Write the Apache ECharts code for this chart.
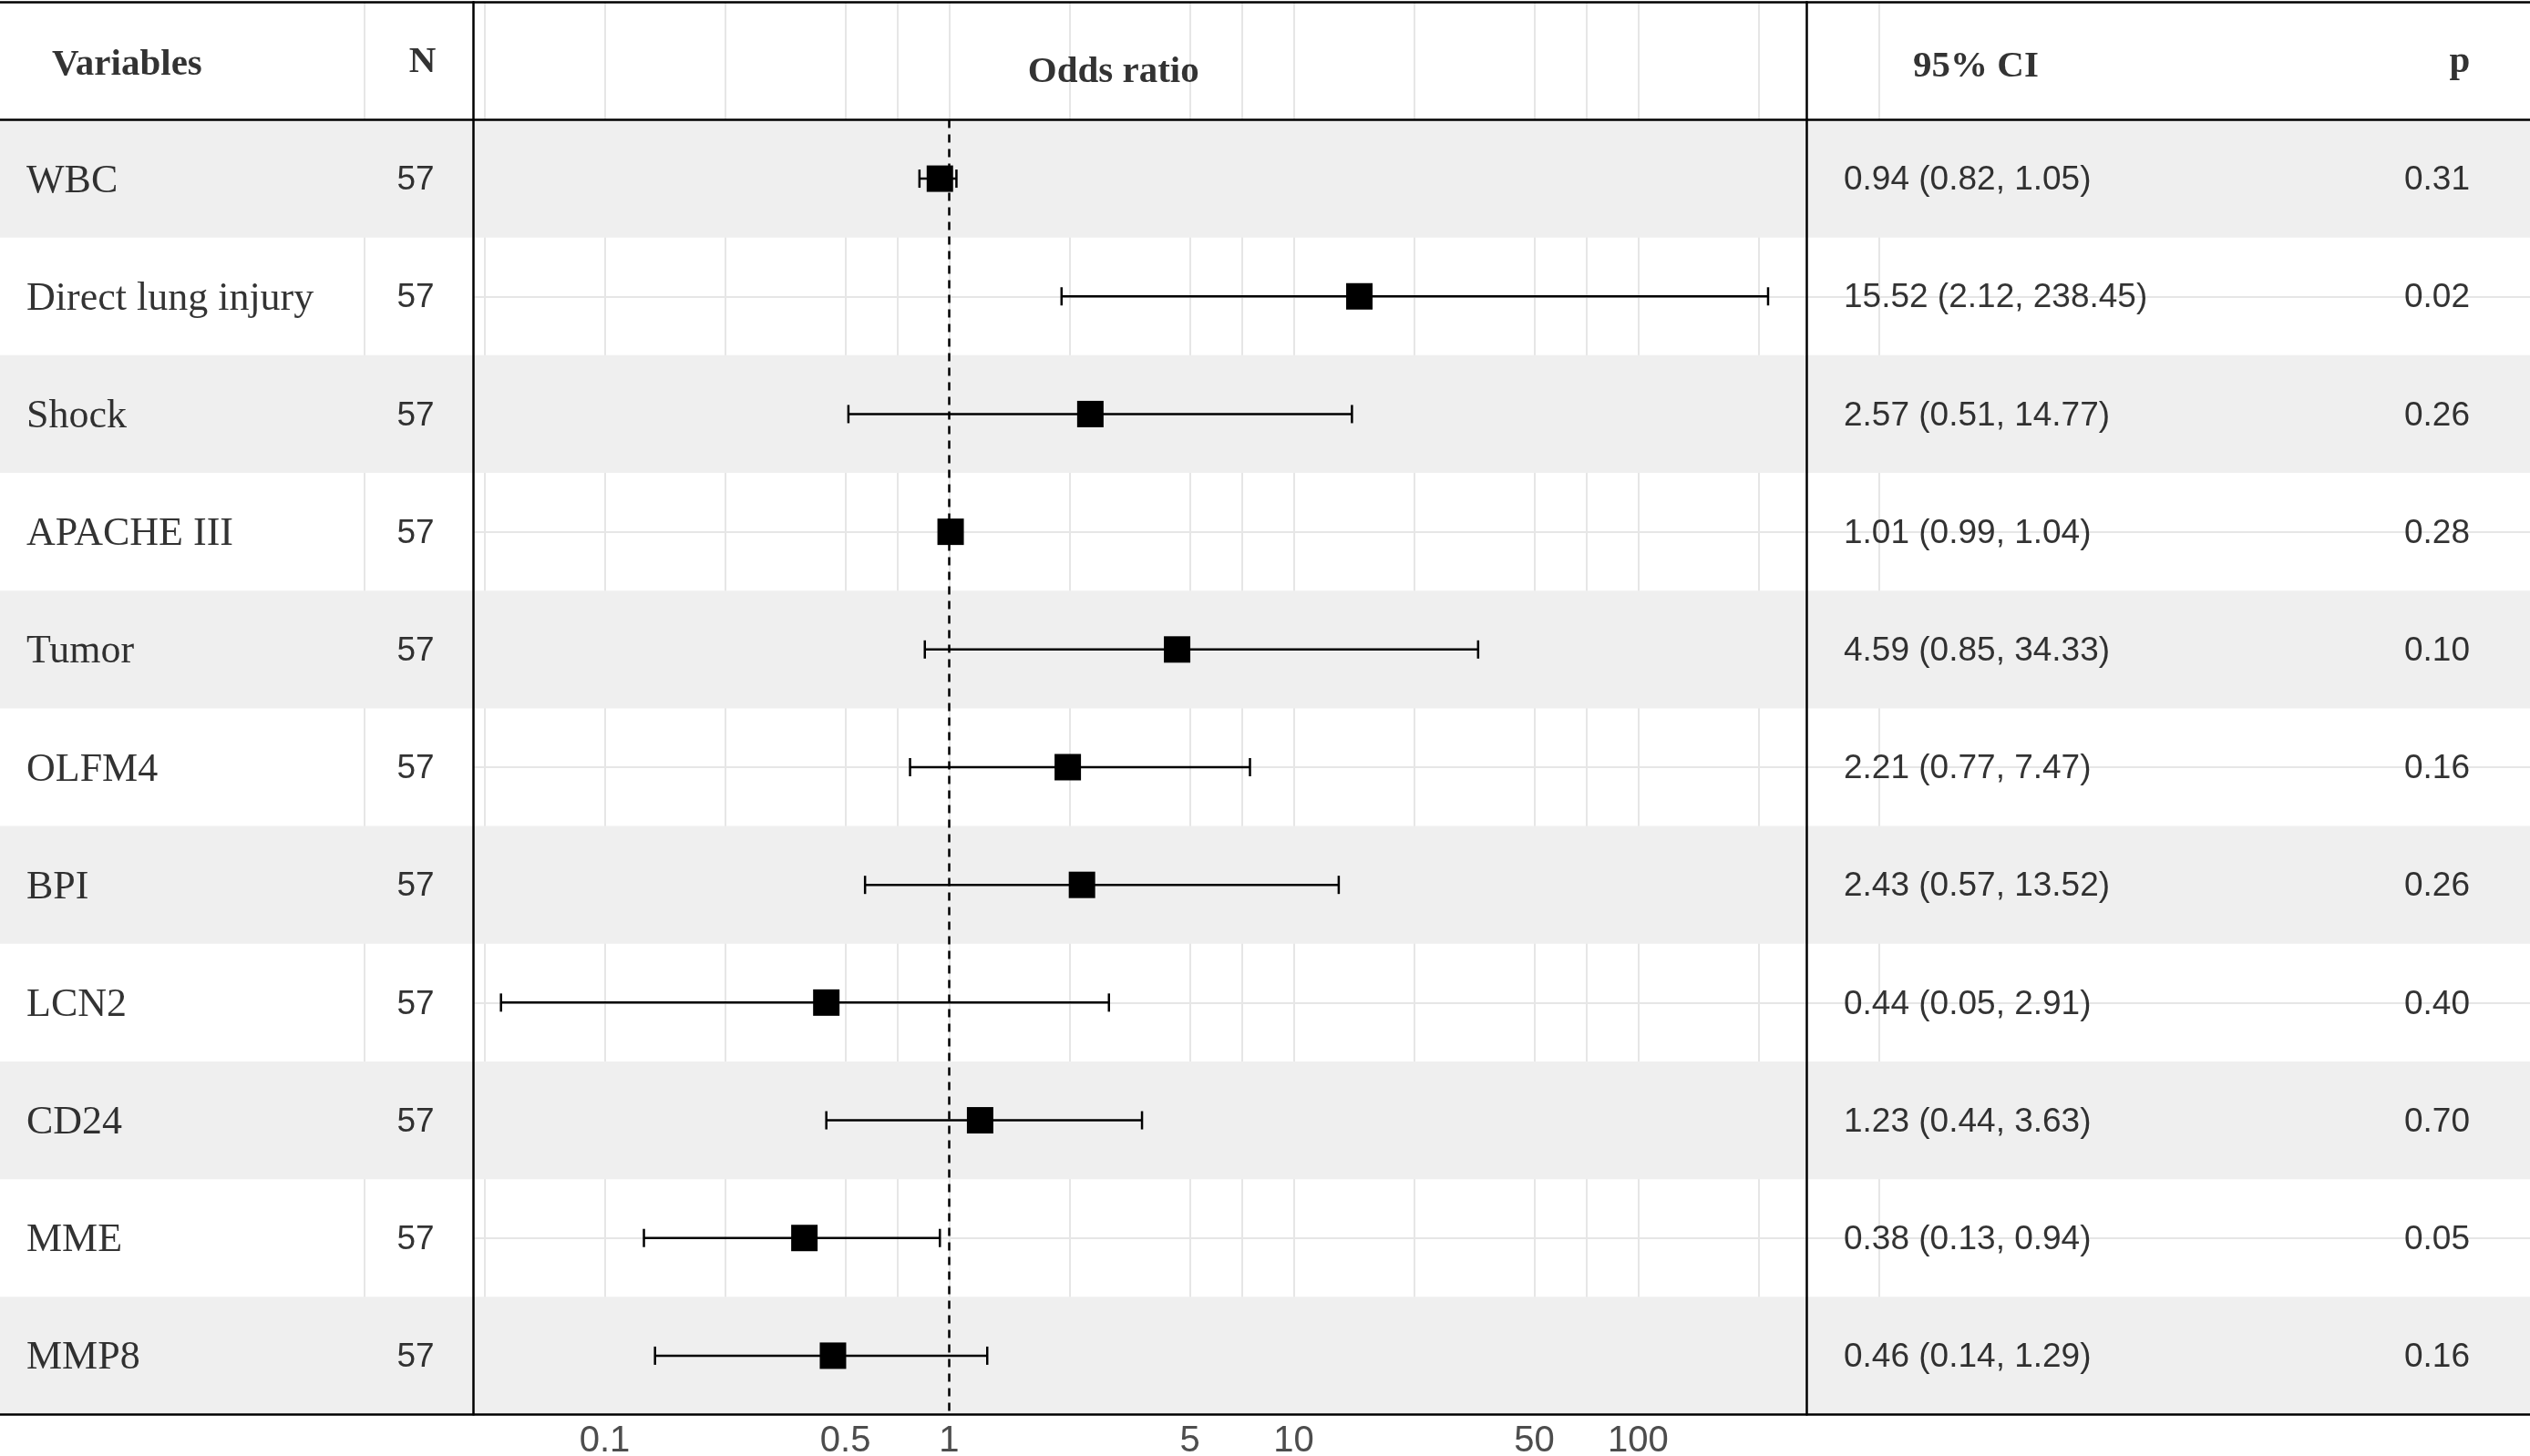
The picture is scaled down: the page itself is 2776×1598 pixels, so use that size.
<!DOCTYPE html>
<html>
<head>
<meta charset="utf-8">
<title>Odds ratio forest plot</title>
<script src="https://cdn.jsdelivr.net/npm/echarts@6/dist/echarts.min.js"></script>
<style>
  html, body { margin: 0; padding: 0; background: #fff; }
  #main { width: 2776px; height: 1598px; }
</style>
</head>
<body>
<div id="main"></div>
<script>
// rows of the table, top to bottom
var variables = ['WBC', 'Direct lung injury', 'Shock', 'APACHE III', 'Tumor', 'OLFM4', 'BPI', 'LCN2', 'CD24', 'MME', 'MMP8'];
var nValues = [57, 57, 57, 57, 57, 57, 57, 57, 57, 57, 57];
var oddsRatio = [0.94, 15.52, 2.57, 1.01, 4.59, 2.21, 2.43, 0.44, 1.23, 0.38, 0.46];
var ciLower = [0.82, 2.12, 0.51, 0.99, 0.85, 0.77, 0.57, 0.05, 0.44, 0.13, 0.14];
var ciUpper = [1.05, 238.45, 14.77, 1.04, 34.33, 7.47, 13.52, 2.91, 3.63, 0.94, 1.29];
var pValues = ['0.31', '0.02', '0.26', '0.28', '0.10', '0.16', '0.26', '0.40', '0.70', '0.05', '0.16'];

// x axis (log scale) ticks and grid lines
var xTickLabels = [0.1, 0.5, 1, 5, 10, 50, 100];
var xGridValues = [0.0447, 0.1, 0.2236, 0.5, 0.7071, 1, 2.236, 5, 7.071, 10, 22.36, 50, 70.71, 100, 223.6];

var myChart = echarts.init(document.getElementById('main'));

var SERIF = '"Liberation Serif", "Times New Roman", serif';
var SANS = '"Liberation Sans", Arial, sans-serif';
var BAND = '#efefef';
var GRIDLINE = '#e6e6e6';

var rowIdx = variables.map(function (v, i) { return i; });
var shadedRows = rowIdx.filter(function (i) { return i % 2 === 0; });

var gridTop = 2.3, gridBottom = 45.5;
var yRange = { min: -1.5, max: 10.5 };

function hiddenY(gridIndex, extra) {
    return Object.assign({
        type: 'value', gridIndex: gridIndex, min: yRange.min, max: yRange.max, inverse: true,
        axisLine: { show: false }, axisLabel: { show: false },
        axisTick: { show: false }, splitLine: { show: false }
    }, extra || {});
}

// one empty series per panel carrying the row bands and horizontal rules
function panelSeries(xIdx, yIdx) {
    return {
        type: 'line', data: [], xAxisIndex: xIdx, yAxisIndex: yIdx, silent: true, z: 1,
        markArea: {
            silent: true,
            itemStyle: { color: BAND },
            data: shadedRows.map(function (i) { return [{ yAxis: i - 0.5 }, { yAxis: i + 0.5 }]; })
        },
        markLine: {
            silent: true, symbol: 'none', label: { show: false },
            lineStyle: { color: '#000', width: 2.5, type: 'solid' },
            data: [{ yAxis: yRange.min }, { yAxis: -0.5 }, { yAxis: yRange.max }]
        }
    };
}

// invisible points that only carry a text label
function textSeries(xIdx, yIdx, data, font, size, weight, align, dy) {
    return {
        type: 'scatter', xAxisIndex: xIdx, yAxisIndex: yIdx, silent: true, z: 6,
        symbolSize: 1, itemStyle: { color: 'rgba(0,0,0,0)' },
        data: data,
        label: {
            show: true, position: 'inside', formatter: '{b}',
            color: '#000', fontFamily: font, fontSize: size, fontWeight: weight,
            align: align, verticalAlign: 'middle', offset: [0, dy || 0]
        }
    };
}

function column(x, texts) {
    return texts.map(function (t, i) { return { name: String(t), value: [x, i] }; });
}

var option = {
    animation: false,
    backgroundColor: '#fff',
    grid: [
        { left: 0, width: 519.5, top: gridTop, bottom: gridBottom, outerBoundsMode: 'none' },
        { left: 519.5, width: 1462.5, top: gridTop, bottom: gridBottom, outerBoundsMode: 'none' },
        { left: 1982, right: 0, top: gridTop, bottom: gridBottom, outerBoundsMode: 'none' }
    ],
    xAxis: [
        {   // left table panel
            type: 'value', gridIndex: 0, min: 0, max: 519.5,
            axisLine: { show: false }, axisLabel: { show: false },
            axisTick: { show: false, customValues: [400] },
            splitLine: { show: true, lineStyle: { color: GRIDLINE, width: 2 } }
        },
        {   // forest panel grid lines
            type: 'log', logBase: 10, gridIndex: 1, min: 0.0416, max: 308,
            axisLine: { show: false }, axisLabel: { show: false },
            axisTick: { show: false, customValues: xGridValues },
            splitLine: { show: true, lineStyle: { color: GRIDLINE, width: 2 } }
        },
        {   // forest panel ticks and labels
            type: 'log', logBase: 10, gridIndex: 1, min: 0.0416, max: 308, position: 'bottom',
            axisLine: { show: false },
            axisTick: { show: true, customValues: xTickLabels, length: 8, lineStyle: { color: '#333', width: 2 } },
            axisLabel: {
                show: true, customValues: xTickLabels, margin: 9,
                color: '#4d4d4d', fontFamily: SANS, fontSize: 40,
                formatter: function (v) { return String(+Number(v).toPrecision(3)); }
            },
            splitLine: { show: false }
        },
        {   // right table panel
            type: 'value', gridIndex: 2, min: 0, max: 794,
            axisLine: { show: false }, axisLabel: { show: false },
            axisTick: { show: false, customValues: [80] },
            splitLine: { show: true, lineStyle: { color: GRIDLINE, width: 2 } }
        }
    ],
    yAxis: [
        hiddenY(0),
        hiddenY(1, {
            axisTick: { show: false, customValues: rowIdx },
            splitLine: { show: true, lineStyle: { color: GRIDLINE, width: 2 } }
        }),
        hiddenY(1, { position: 'left', z: 10, axisLine: { show: true, lineStyle: { color: '#000', width: 2.5 } } }),
        hiddenY(1, { position: 'right', z: 10, axisLine: { show: true, lineStyle: { color: '#000', width: 2.5 } } }),
        hiddenY(2, {
            axisTick: { show: false, customValues: rowIdx },
            splitLine: { show: true, lineStyle: { color: GRIDLINE, width: 2 } }
        })
    ],
    series: [
        panelSeries(0, 0),
        panelSeries(1, 1),
        panelSeries(3, 4),

        // left panel
        textSeries(0, 0, [{ name: 'Variables', value: [57, -1] }], SERIF, 41, 'bold', 'left', 5),
        textSeries(0, 0, [{ name: 'N', value: [463.5, -1] }], SERIF, 41, 'bold', 'center', 2),
        textSeries(0, 0, column(29, variables), SERIF, 44, 'normal', 'left', 3),
        textSeries(0, 0, column(456, nValues), SANS, 37, 'normal', 'center', 2),

        // confidence intervals
        {
            type: 'custom', xAxisIndex: 2, yAxisIndex: 1, silent: true, z: 4,
            data: rowIdx.map(function (i) { return [ciLower[i], ciUpper[i], i]; }),
            encode: { x: [0, 1], y: 2 },
            renderItem: function (params, api) {
                var y = api.value(2);
                var lo = api.coord([api.value(0), y]);
                var hi = api.coord([api.value(1), y]);
                var cap = 10;
                var st = { stroke: '#000', lineWidth: 2.5 };
                return {
                    type: 'group',
                    children: [
                        { type: 'line', shape: { x1: lo[0], y1: lo[1], x2: hi[0], y2: hi[1] }, style: st },
                        { type: 'line', shape: { x1: lo[0], y1: lo[1] - cap, x2: lo[0], y2: lo[1] + cap }, style: st },
                        { type: 'line', shape: { x1: hi[0], y1: hi[1] - cap, x2: hi[0], y2: hi[1] + cap }, style: st }
                    ]
                };
            },
            markLine: {
                silent: true, symbol: 'none', label: { show: false },
                lineStyle: { color: '#000', width: 2.5, type: [9, 7], opacity: 1 },
                data: [[{ coord: [1, -0.5] }, { coord: [1, yRange.max] }]]
            }
        },
        // point estimates
        {
            type: 'scatter', xAxisIndex: 2, yAxisIndex: 1, silent: true, z: 5,
            symbol: 'rect', symbolSize: 29,
            itemStyle: { color: '#000', opacity: 1 },
            data: rowIdx.map(function (i) { return [oddsRatio[i], i]; })
        },
        textSeries(2, 1, [{ name: 'Odds ratio', value: [3, -1] }], SERIF, 41, 'bold', 'center', 13),

        // right panel
        textSeries(3, 4, [{ name: '95% CI', value: [186, -1] }], SERIF, 41, 'bold', 'center', 7),
        textSeries(3, 4, [{ name: 'p', value: [717, -1] }], SERIF, 41, 'bold', 'center', 2),
        textSeries(3, 4, column(41, rowIdx.map(function (i) {
            return oddsRatio[i].toFixed(2) + ' (' + ciLower[i].toFixed(2) + ', ' + ciUpper[i].toFixed(2) + ')';
        })), SANS, 37, 'normal', 'left', 2),
        textSeries(3, 4, column(692, pValues), SANS, 37, 'normal', 'center', 2)
    ]
};

myChart.setOption(option);
</script>
</body>
</html>
